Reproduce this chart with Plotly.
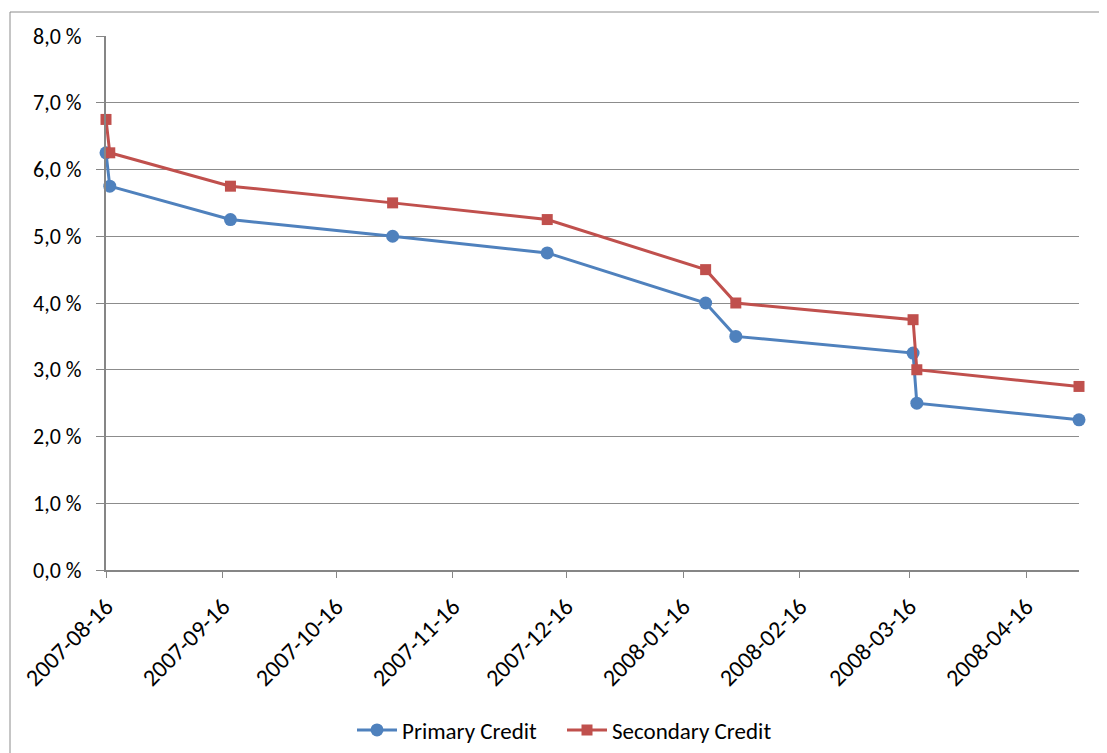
import plotly.graph_objects as go

dates = ["2007-08-16", "2007-08-17", "2007-09-18", "2007-10-31", "2007-12-11",
         "2008-01-22", "2008-01-30", "2008-03-17", "2008-03-18", "2008-04-30"]
primary = [6.25, 5.75, 5.25, 5.00, 4.75, 4.00, 3.50, 3.25, 2.50, 2.25]
secondary = [6.75, 6.25, 5.75, 5.50, 5.25, 4.50, 4.00, 3.75, 3.00, 2.75]
y_tickvals = [0, 1, 2, 3, 4, 5, 6, 7, 8]
y_ticktext = ["0,0 %", "1,0 %", "2,0 %", "3,0 %", "4,0 %", "5,0 %", "6,0 %", "7,0 %", "8,0 %"]

OFF = 8  # browser body margin
W, H = 1107 - OFF, 753 - OFF
L, R, T, B = 106 - OFF, 1079 - OFF, 36 - OFF, 570 - OFF
FONT = "Carlito, Calibri, Lato, sans-serif"

fig = go.Figure()
fig.add_trace(go.Scatter(x=dates, y=primary, name="Primary Credit", mode="lines+markers",
                         line=dict(color="#4F81BD", width=3), cliponaxis=False,
                         marker=dict(symbol="circle", size=13, color="#4F81BD")))
fig.add_trace(go.Scatter(x=dates, y=secondary, name="Secondary Credit", mode="lines+markers",
                         line=dict(color="#C0504D", width=3), cliponaxis=False,
                         marker=dict(symbol="square", size=11, color="#C0504D")))

pw, ph = R - L, B - T
fig.add_shape(type="rect", xref="paper", yref="paper",
              x0=(10 - OFF - L) / pw, x1=(1120 - OFF - L) / pw,
              y0=(B - (770 - OFF)) / ph, y1=(B - (12 - OFF)) / ph,
              line=dict(color="#8C8C8C", width=1), layer="below")

fig.update_layout(
    width=W, height=H,
    margin=dict(l=L, r=W - R, t=T, b=H - B, autoexpand=False),
    paper_bgcolor="white", plot_bgcolor="white",
    font=dict(family=FONT, size=21, color="black"),
    showlegend=True,
    legend=dict(orientation="h", x=(352 - 106) / 973, xanchor="left",
                y=(B - (730 - OFF)) / ph, yanchor="middle",
                itemwidth=40,
                entrywidth=155, entrywidthmode="pixels",
                font=dict(size=23)),
    xaxis=dict(type="date", range=["2007-08-16", "2008-04-30"], automargin=False,
               tick0="2007-08-16", dtick="M1", tickformat="%Y-%m-%d",
               tickangle=-45, ticks="outside", ticklen=6, tickcolor="#868686",
               ticklabelstandoff=5,
               showline=True, linecolor="#868686", linewidth=2,
               showgrid=False, zeroline=False, tickfont=dict(size=24)),
    yaxis=dict(range=[0, 8], tickvals=y_tickvals, ticktext=y_ticktext, automargin=False,
               ticks="outside", ticklen=8, tickcolor="#868686",
               ticklabelstandoff=10,
               showline=True, linecolor="#868686", linewidth=2,
               showgrid=True, gridcolor="#8C8C8C", gridwidth=1, zeroline=False,
               tickfont=dict(size=22)),
)

fig.write_html("out.html")
